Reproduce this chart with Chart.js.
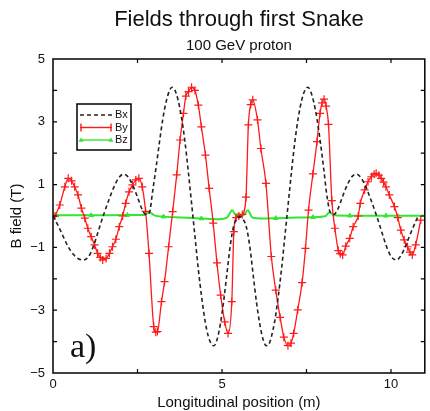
<!DOCTYPE html>
<html>
<head>
<meta charset="utf-8">
<script src="https://cdn.jsdelivr.net/npm/chart.js@4/dist/chart.umd.min.js"></script>
<style>
  body { margin: 0; background: #fff; }
  #wrap { width: 430px; height: 411px; position: relative; }
</style>
</head>
<body>
<div id="wrap"><canvas id="chart"></canvas></div>
<script>
// --- DATA ---
const TITLE = "Fields through first Snake";
const SUBTITLE = "100 GeV proton";
const X_TITLE = "Longitudinal position (m)";
const Y_TITLE = "B field (T)";
const PANEL_TAG = "a)";

// Bx: dashed black
const bxX = [0.00, 0.15, 0.30, 0.45, 0.60, 0.75, 0.90, 1.05, 1.20, 1.35, 1.50, 1.65, 1.80, 1.95, 2.08, 2.20, 2.35, 2.50, 2.62, 2.75, 2.85, 2.95, 3.05, 3.15, 3.25, 3.35, 3.45, 3.52, 3.60, 3.70, 3.80, 3.90, 4.00, 4.10, 4.20, 4.30, 4.40, 4.50, 4.60, 4.70, 4.76, 4.85, 4.95, 5.05, 5.15, 5.25, 5.35, 5.45, 5.53, 5.62, 5.72, 5.82, 5.92, 6.02, 6.12, 6.22, 6.31, 6.38, 6.46, 6.56, 6.66, 6.76, 6.86, 6.96, 7.06, 7.16, 7.26, 7.36, 7.46, 7.54, 7.61, 7.71, 7.81, 7.91, 8.01, 8.11, 8.21, 8.31, 8.44, 8.56, 8.71, 8.86, 8.98, 9.11, 9.26, 9.41, 9.56, 9.71, 9.86, 10.01, 10.16, 10.30, 10.45, 10.60, 10.80];
const bxY = [0.00, -0.30, -0.65, -0.98, -1.22, -1.36, -1.40, -1.30, -0.95, -0.45, 0.05, 0.50, 0.92, 1.22, 1.33, 1.27, 1.00, 0.60, 0.25, 0.05, 0.10, 0.80, 1.55, 2.35, 3.10, 3.65, 4.00, 4.10, 4.02, 3.70, 3.15, 2.40, 1.45, 0.40, -0.65, -1.70, -2.60, -3.35, -3.85, -4.10, -4.13, -3.95, -3.45, -2.70, -1.80, -0.90, -0.30, -0.08, -0.02, -0.10, -0.35, -0.95, -1.85, -2.75, -3.45, -3.95, -4.13, -4.10, -3.85, -3.35, -2.60, -1.70, -0.65, 0.40, 1.45, 2.40, 3.15, 3.70, 4.02, 4.10, 4.00, 3.65, 3.10, 2.35, 1.50, 0.60, 0.10, 0.05, 0.25, 0.60, 1.00, 1.27, 1.33, 1.22, 0.92, 0.50, 0.05, -0.45, -0.95, -1.30, -1.40, -1.25, -0.90, -0.50, 0.00];

// By: red with + markers
const byX = [0.06, 0.20, 0.35, 0.45, 0.55, 0.64, 0.74, 0.84, 0.94, 1.03, 1.13, 1.23, 1.32, 1.40, 1.47, 1.57, 1.67, 1.76, 1.86, 1.96, 2.06, 2.15, 2.25, 2.35, 2.45, 2.54, 2.64, 2.74, 2.84, 2.98, 3.04, 3.09, 3.21, 3.30, 3.42, 3.54, 3.66, 3.76, 3.86, 3.93, 4.01, 4.10, 4.20, 4.30, 4.39, 4.51, 4.62, 4.74, 4.85, 4.96, 5.08, 5.18, 5.29, 5.35, 5.42, 5.50, 5.60, 5.71, 5.78, 5.85, 5.91, 6.05, 6.15, 6.30, 6.46, 6.59, 6.72, 6.83, 6.95, 7.04, 7.12, 7.24, 7.37, 7.47, 7.56, 7.69, 7.81, 7.90, 7.96, 8.02, 8.08, 8.15, 8.25, 8.34, 8.44, 8.50, 8.57, 8.66, 8.78, 8.88, 9.03, 9.09, 9.22, 9.32, 9.42, 9.50, 9.56, 9.64, 9.71, 9.78, 9.85, 9.95, 10.10, 10.20, 10.29, 10.39, 10.49, 10.56, 10.63, 10.73, 10.88];
const byY = [0.00, 0.35, 0.93, 1.20, 1.12, 0.93, 0.67, 0.25, -0.07, -0.39, -0.66, -0.92, -1.19, -1.32, -1.40, -1.35, -1.19, -0.98, -0.74, -0.34, 0.00, 0.40, 0.77, 0.99, 1.15, 1.20, 0.93, 0.15, -1.19, -3.52, -3.70, -3.68, -2.73, -2.09, -0.98, 0.14, 1.31, 2.42, 3.27, 3.82, 3.96, 4.10, 4.00, 3.53, 2.84, 1.94, 0.88, -0.23, -1.49, -2.52, -3.37, -3.74, -2.73, -0.50, -0.05, 0.00, 0.05, 0.60, 2.90, 3.55, 3.70, 3.06, 2.15, 1.04, -1.29, -2.36, -3.23, -3.86, -4.13, -4.05, -3.74, -2.99, -2.12, -1.03, 0.19, 1.34, 2.37, 3.27, 3.60, 3.72, 3.50, 2.92, 0.49, -0.39, -1.10, -1.20, -1.24, -0.96, -0.71, -0.34, 0.00, 0.40, 0.83, 1.09, 1.25, 1.33, 1.36, 1.30, 1.20, 1.08, 0.93, 0.67, 0.30, -0.05, -0.45, -0.76, -0.98, -1.15, -1.24, -0.92, -0.13];

// Bz: green, nearly zero with small bumps
const bzX = [0.00, 0.10, 1.13, 2.20, 2.70, 2.85, 3.00, 3.27, 3.80, 4.39, 4.90, 5.15, 5.30, 5.40, 5.53, 5.66, 5.76, 5.90, 6.20, 6.59, 7.20, 7.69, 8.05, 8.18, 8.32, 8.78, 9.85, 11.00];
const bzY = [0.02, 0.02, 0.02, 0.03, 0.03, 0.12, 0.02, -0.02, -0.05, -0.08, -0.10, -0.05, 0.18, 0.04, 0.00, 0.04, 0.18, -0.05, -0.08, -0.07, -0.05, -0.04, -0.01, 0.12, 0.02, 0.01, 0.01, 0.01];
// where the triangle markers sit on Bz
const bzMarkX = [0.10, 1.13, 2.20, 3.27, 4.39, 5.47, 6.59, 7.69, 8.78, 9.85];
const bzMarkY = [0.02, 0.02, 0.03, -0.02, -0.08, 0.01, -0.07, -0.04, 0.01, 0.01];

const X_MIN = 0, X_MAX = 11, X_LABEL_STEP = 5, X_TICK_STEP = 2.5;
const Y_MIN = -5, Y_MAX = 5, Y_LABEL_STEP = 2, Y_TICK_STEP = 1;

const pts = (xs, ys) => xs.map((x, i) => ({ x: x, y: ys[i] }));

const FONT = "'Liberation Sans', Arial, Helvetica, sans-serif";
const INK = '#000';

// --- SERIES ---
const series = [
    { label: 'Bx', color: '#222', dash: [4, 3], marker: null },
    { label: 'By', color: '#ff1a1a', dash: [], marker: 'cross' },
    { label: 'Bz', color: '#33e633', dash: [], marker: 'triangle' },
];

// --- PLUGINS: frame + inward ticks, titles, legend box, panel tag ---
const decorations = {
    id: 'decorations',
    afterDraw(chart) {
        const { ctx, chartArea: a, scales } = chart;
        const xs = scales.x, ys = scales.y;
        ctx.save();

        // frame
        ctx.strokeStyle = INK;
        ctx.lineWidth = 1.5;
        ctx.strokeRect(a.left, a.top, a.right - a.left, a.bottom - a.top);

        // inward tick marks
        ctx.lineWidth = 1.2;
        ctx.beginPath();
        for (let v = X_MIN + X_TICK_STEP; v < X_MAX; v += X_TICK_STEP) {
            const px = xs.getPixelForValue(v);
            ctx.moveTo(px, a.bottom); ctx.lineTo(px, a.bottom - 4);
            ctx.moveTo(px, a.top); ctx.lineTo(px, a.top + 4);
        }
        for (let v = Y_MIN + Y_TICK_STEP; v < Y_MAX; v += Y_TICK_STEP) {
            const py = ys.getPixelForValue(v);
            ctx.moveTo(a.left, py); ctx.lineTo(a.left + 4, py);
            ctx.moveTo(a.right, py); ctx.lineTo(a.right - 4, py);
        }
        ctx.stroke();

        const cx = (a.left + a.right) / 2;
        ctx.fillStyle = '#111';
        ctx.textAlign = 'center';
        ctx.textBaseline = 'alphabetic';
        ctx.font = `22px ${FONT}`;
        ctx.fillText(TITLE, cx, 26);
        ctx.font = `15px ${FONT}`;
        ctx.fillText(SUBTITLE, cx, 50);

        // axis titles
        ctx.textBaseline = 'middle';
        ctx.fillText(X_TITLE, cx, 403);
        ctx.save();
        ctx.translate(17, (a.top + a.bottom) / 2);
        ctx.rotate(-Math.PI / 2);
        ctx.fillText(Y_TITLE, 0, 0);
        ctx.restore();

        // panel tag
        ctx.textAlign = 'left';
        ctx.textBaseline = 'alphabetic';
        ctx.font = `34px 'Liberation Serif', 'Times New Roman', serif`;
        ctx.fillText(PANEL_TAG, 70, 357);

        // legend box
        const bx = a.left + 24, by = a.top + 45, bw = 54, bh = 46;
        ctx.fillStyle = '#fff';
        ctx.fillRect(bx, by, bw, bh);
        ctx.strokeStyle = INK;
        ctx.lineWidth = 1.5;
        ctx.strokeRect(bx, by, bw, bh);
        ctx.font = `11px ${FONT}`;
        ctx.textBaseline = 'middle';
        series.forEach((s, i) => {
            const ly = by + 11 + i * 12.5;
            const x0 = bx + 3, x1 = bx + 35;
            ctx.strokeStyle = s.color;
            ctx.fillStyle = s.color;
            ctx.lineWidth = 1.4;
            ctx.setLineDash(s.dash);
            ctx.beginPath(); ctx.moveTo(x0, ly); ctx.lineTo(x1, ly); ctx.stroke();
            ctx.setLineDash([]);
            if (s.marker === 'cross') {
                ctx.beginPath();
                [x0 + 1, x1 - 1].forEach(px => { ctx.moveTo(px, ly - 4); ctx.lineTo(px, ly + 4); });
                ctx.stroke();
            } else if (s.marker === 'triangle') {
                [x0 + 1, x1 - 1].forEach(px => {
                    ctx.beginPath();
                    ctx.moveTo(px, ly - 2.5); ctx.lineTo(px + 2.5, ly + 1.8); ctx.lineTo(px - 2.5, ly + 1.8);
                    ctx.closePath(); ctx.fill();
                });
            }
            ctx.fillStyle = '#111';
            ctx.fillText(s.label, x1 + 3, ly);
        });
        ctx.restore();
    }
};

new Chart(document.getElementById('chart'), {
    type: 'scatter',
    data: {
        datasets: [
            {
                label: 'Bx', data: pts(bxX, bxY), showLine: true,
                borderColor: series[0].color, borderWidth: 1.6, borderDash: series[0].dash,
                pointRadius: 0, cubicInterpolationMode: 'monotone'
            },
            {
                label: 'By', data: pts(byX, byY), showLine: true,
                borderColor: series[1].color, borderWidth: 1.3,
                pointStyle: 'cross', pointRadius: 4, pointBorderWidth: 1.2,
                pointBorderColor: series[1].color, cubicInterpolationMode: 'monotone'
            },
            {
                label: 'Bz', data: pts(bzX, bzY), showLine: true,
                borderColor: series[2].color, borderWidth: 2,
                pointRadius: 0, cubicInterpolationMode: 'monotone'
            },
            {
                label: 'Bz markers', data: pts(bzMarkX, bzMarkY), showLine: false,
                pointStyle: 'triangle', pointRadius: 2.6,
                backgroundColor: series[2].color, borderColor: series[2].color, pointBorderWidth: 1
            }
        ]
    },
    options: {
        animation: false,
        responsive: true,
        maintainAspectRatio: false,
        layout: { padding: { top: 59, right: 1, left: 0, bottom: 0 } },
        plugins: { legend: { display: false }, tooltip: { enabled: false } },
        scales: {
            x: {
                type: 'linear', min: X_MIN, max: X_MAX,
                grid: { display: false, drawTicks: false },
                border: { display: false },
                ticks: {
                    stepSize: X_LABEL_STEP, padding: 4, color: '#111', maxRotation: 0,
                    font: { family: FONT, size: 13 },
                    callback: v => (v % X_LABEL_STEP === 0 ? v : '')
                },
                afterFit: s => { s.height = 38; }
            },
            y: {
                type: 'linear', min: Y_MIN, max: Y_MAX,
                grid: { display: false, drawTicks: false },
                border: { display: false },
                ticks: {
                    stepSize: Y_LABEL_STEP, padding: 8, color: '#111',
                    font: { family: FONT, size: 13 },
                    callback: v => (v < 0 ? '\u2212' + Math.abs(v) : v)
                },
                afterFit: s => { s.height = s.height; s.width = 53; }
            }
        }
    },
    plugins: [decorations]
});
</script>
</body>
</html>
